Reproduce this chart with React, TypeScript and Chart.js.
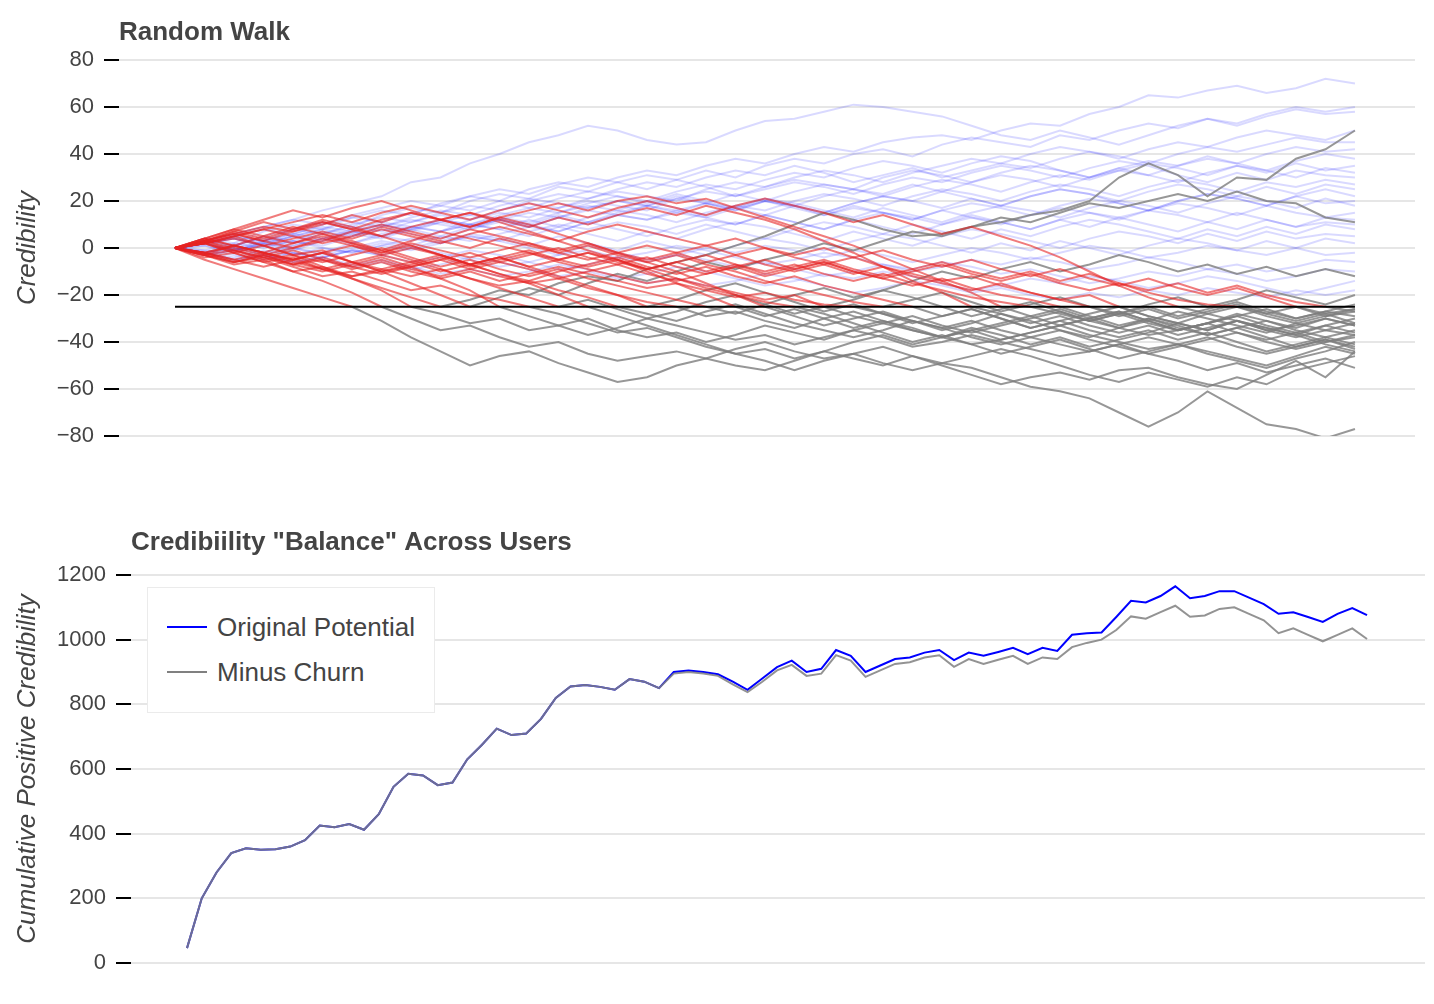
import React, { useEffect, useRef } from "react";
import { Chart, registerables } from "chart.js";

Chart.register(...registerables);

const FONT = "'Liberation Sans', Arial, Helvetica, sans-serif";
const TEXT = "#444";

const CHURN_THRESHOLD = -25;
const WALK_STEPS = 40;

// credibility of each user, sampled every 25 steps of the walk
const walk01 = [0, 4, 2, 7, 10, 8, 13, 16, 14, 19, 22, 20, 25, 28, 26, 30, 33, 31, 35, 38, 36, 40, 43, 41, 45, 47, 48, 46, 50, 53, 52, 57, 60, 65, 64, 67, 69, 66, 68, 72, 70];
const walk02 = [0, 3, 6, 9, 12, 16, 19, 22, 28, 30, 36, 40, 45, 48, 52, 50, 46, 44, 45, 50, 54, 55, 58, 61, 60, 58, 56, 52, 48, 46, 50, 47, 44, 48, 52, 55, 53, 57, 60, 58, 60];
const walk03 = [0, 2, 5, 3, 8, 11, 9, 14, 17, 15, 20, 23, 21, 26, 24, 28, 31, 29, 33, 30, 35, 38, 36, 40, 42, 39, 44, 47, 45, 43, 48, 46, 50, 53, 51, 55, 52, 56, 59, 57, 58];
const walk04 = [0, -2, 1, 4, 2, 6, 9, 7, 11, 14, 12, 16, 19, 17, 21, 24, 22, 20, 25, 28, 26, 30, 33, 31, 28, 32, 35, 38, 36, 40, 43, 41, 38, 42, 45, 43, 47, 50, 48, 46, 50];
const walk05 = [0, 3, 1, 5, 8, 6, 10, 13, 11, 15, 18, 16, 20, 23, 21, 25, 28, 26, 30, 33, 31, 35, 32, 28, 31, 34, 30, 33, 36, 34, 38, 41, 39, 36, 40, 43, 41, 44, 47, 45, 45];
const walk06 = [0, 2, -1, 3, 6, 4, 8, 11, 9, 7, 12, 15, 13, 17, 20, 18, 16, 21, 24, 22, 26, 29, 27, 25, 30, 33, 31, 28, 32, 35, 33, 30, 34, 37, 35, 39, 36, 40, 43, 41, 42];
const walk07 = [0, -3, -1, 2, 5, 3, 7, 10, 8, 12, 10, 14, 17, 15, 19, 22, 20, 24, 27, 25, 29, 32, 30, 34, 37, 35, 32, 36, 39, 37, 33, 30, 34, 31, 35, 38, 36, 33, 37, 40, 38];
const walk08 = [0, 2, 4, 1, 5, 8, 6, 10, 7, 11, 14, 12, 9, 13, 16, 14, 18, 21, 19, 23, 20, 24, 27, 25, 22, 26, 29, 27, 24, 28, 31, 29, 33, 36, 34, 31, 35, 32, 36, 33, 35];
const walk09 = [0, 1, -2, 2, -1, 3, 6, 4, 8, 5, 9, 12, 10, 14, 11, 15, 18, 16, 13, 17, 20, 18, 22, 25, 23, 27, 24, 28, 31, 29, 26, 30, 33, 31, 28, 32, 35, 33, 30, 34, 32];
const walk10 = [0, 3, 6, 9, 12, 10, 14, 17, 20, 18, 22, 25, 23, 27, 30, 28, 25, 29, 26, 22, 25, 28, 26, 23, 27, 30, 28, 32, 35, 33, 30, 34, 37, 35, 31, 28, 32, 29, 33, 31, 30];
const walk11 = [0, -2, -5, -3, 0, -2, 2, 5, 3, 7, 10, 8, 12, 9, 13, 16, 14, 11, 15, 18, 16, 20, 23, 21, 18, 22, 25, 23, 20, 24, 27, 25, 22, 26, 29, 27, 24, 28, 26, 29, 27];
const walk12 = [0, 2, 5, 8, 6, 10, 13, 11, 15, 18, 16, 20, 17, 21, 24, 22, 19, 23, 20, 17, 21, 18, 15, 19, 22, 20, 24, 21, 18, 22, 25, 23, 20, 24, 27, 25, 22, 26, 23, 27, 25];
const walk13 = [0, -1, 2, 0, 3, 1, 5, 8, 6, 4, 8, 11, 9, 13, 10, 14, 12, 16, 19, 17, 14, 18, 15, 19, 22, 20, 17, 21, 18, 22, 25, 23, 19, 16, 20, 23, 21, 18, 22, 25, 22];
const walk14 = [0, 2, 4, 2, 5, 8, 11, 9, 13, 16, 14, 18, 21, 19, 17, 20, 18, 15, 19, 16, 20, 18, 14, 17, 15, 12, 16, 19, 17, 14, 18, 21, 19, 16, 20, 23, 21, 18, 22, 19, 20];
const walk15 = [0, -2, 0, 3, 1, 4, 7, 5, 9, 12, 10, 13, 11, 15, 18, 16, 20, 17, 14, 18, 21, 19, 16, 13, 17, 14, 11, 15, 18, 16, 13, 17, 20, 18, 15, 19, 22, 20, 17, 21, 18];
const walk16 = [0, 3, 1, 5, 3, 7, 5, 9, 12, 10, 8, 12, 15, 13, 17, 20, 18, 22, 19, 16, 20, 17, 14, 18, 15, 12, 16, 13, 10, 14, 17, 15, 12, 16, 19, 17, 14, 18, 15, 13, 15];
const walk17 = [0, 1, -1, 2, 0, -3, 0, 3, 1, 5, 3, 6, 9, 7, 11, 14, 12, 15, 13, 10, 14, 11, 8, 12, 15, 13, 10, 14, 11, 8, 12, 9, 13, 16, 14, 11, 15, 12, 9, 13, 12];
const walk18 = [0, 2, 5, 3, 6, 9, 7, 5, 8, 11, 9, 12, 10, 7, 11, 8, 5, 9, 12, 10, 14, 11, 8, 12, 9, 6, 10, 13, 11, 8, 12, 15, 13, 10, 7, 11, 8, 12, 9, 11, 10];
const walk19 = [0, -2, -4, -1, -3, 0, -2, 1, 4, 2, 5, 3, 7, 10, 8, 11, 9, 6, 10, 7, 4, 8, 11, 9, 6, 10, 7, 4, 8, 5, 9, 12, 10, 7, 4, 8, 5, 9, 6, 10, 8];
const walk20 = [0, 2, 0, -2, 1, 4, 2, 6, 9, 7, 10, 8, 5, 9, 6, 3, 7, 4, 8, 11, 9, 6, 3, 7, 4, 1, 5, 8, 6, 3, 0, 4, 7, 5, 2, 6, 3, 7, 4, 6, 5];
const walk21 = [0, -1, -3, -5, -2, -4, -1, 2, 0, 3, 6, 4, 1, 5, 2, -1, 3, 0, -3, 1, 4, 2, -1, 3, 6, 4, 1, -2, 2, -1, 3, 0, -3, 1, 4, 2, -1, 3, 0, 4, 2];
const walk22 = [0, 2, 4, 1, 3, 0, -2, 1, -1, 2, 5, 3, 0, -3, 1, -2, -5, -3, 0, -2, 1, -1, -4, -1, -3, -6, -3, 0, -2, -5, -2, 1, -1, -4, -2, 1, -1, -3, 0, -3, -2];
const walk23 = [0, -2, -5, -3, -6, -4, -1, -3, 0, -2, -5, -8, -6, -3, -1, -4, -2, 1, -1, -4, -7, -5, -2, -4, -7, -10, -8, -5, -7, -4, -6, -9, -7, -4, -6, -9, -7, -10, -8, -5, -6];
const walk24 = [0, 2, -1, 1, -2, -4, -1, -3, -6, -4, -1, -3, -6, -9, -7, -4, -6, -3, -5, -8, -6, -9, -12, -10, -7, -9, -6, -8, -11, -9, -12, -15, -13, -10, -12, -9, -11, -14, -12, -9, -10];
const walk25 = [0, -3, -1, -4, -2, -5, -8, -6, -9, -7, -4, -6, -9, -12, -10, -13, -11, -8, -10, -13, -16, -14, -11, -13, -10, -12, -15, -18, -16, -13, -15, -12, -14, -17, -15, -12, -14, -17, -20, -17, -14];
const walk26 = [0, -2, 0, -3, -6, -4, -7, -5, -8, -11, -9, -12, -10, -7, -9, -12, -15, -13, -16, -14, -11, -13, -16, -19, -17, -14, -16, -19, -17, -20, -22, -19, -21, -18, -20, -17, -19, -21, -18, -20, -18];
const walk27 = [0, -5, -9, -13, -17, -21, -25, -31, -38, -44, -50, -46, -44, -49, -53, -57, -55, -50, -47, -50, -52, -48, -44, -47, -50, -46, -49, -51, -55, -59, -61, -64, -70, -76, -70, -61, -68, -75, -77, -81, -77];
const walk28 = [0, -3, -7, -5, -10, -14, -19, -25, -30, -35, -33, -38, -42, -40, -45, -48, -46, -44, -47, -43, -40, -44, -47, -45, -42, -46, -50, -54, -58, -55, -53, -56, -52, -51, -55, -58, -60, -54, -48, -55, -44];
const walk29 = [0, 2, -2, -6, -4, -9, -13, -18, -25, -28, -32, -30, -35, -33, -37, -34, -30, -33, -36, -39, -37, -41, -38, -35, -38, -42, -40, -37, -40, -43, -46, -44, -41, -38, -41, -44, -47, -50, -46, -42, -45];
const walk30 = [0, -4, -2, -6, -10, -8, -13, -17, -21, -25, -22, -18, -20, -15, -12, -14, -9, -6, -3, 1, 5, 10, 15, 12, 8, 5, 6, 9, 11, 14, 16, 20, 30, 36, 31, 22, 30, 29, 38, 42, 50];
const walk31 = [0, 3, -1, -5, -3, -8, -12, -10, -15, -20, -25, -21, -17, -20, -15, -11, -14, -10, -6, -9, -5, -2, 2, -1, 3, 7, 5, 9, 13, 11, 15, 19, 17, 20, 23, 20, 24, 20, 19, 13, 11];
const walk32 = [0, 2, 5, 1, -3, -1, -6, -10, -8, -13, -18, -25, -29, -33, -30, -35, -38, -36, -40, -37, -33, -36, -39, -35, -32, -35, -38, -41, -39, -36, -33, -30, -34, -37, -35, -32, -29, -33, -36, -33, -30];
const walk33 = [0, -2, -6, -4, -8, -12, -10, -14, -18, -16, -20, -22, -25, -28, -32, -36, -34, -38, -42, -45, -43, -47, -44, -40, -37, -41, -38, -35, -39, -36, -33, -37, -40, -43, -41, -45, -48, -51, -47, -44, -40];
const walk34 = [0, 4, 8, 5, 2, 6, 3, -1, -5, -9, -13, -17, -21, -25, -22, -26, -30, -27, -23, -20, -24, -28, -25, -22, -18, -21, -25, -29, -26, -23, -27, -31, -28, -24, -21, -25, -22, -18, -21, -24, -20];
const walk35 = [0, 3, 7, 11, 8, 12, 9, 5, 1, -3, -7, -11, -15, -20, -25, -29, -33, -37, -41, -45, -48, -52, -48, -45, -49, -52, -49, -46, -43, -46, -50, -54, -57, -53, -56, -59, -55, -58, -52, -49, -46];
const walk36 = [0, -3, 1, -2, -5, -2, -6, -9, -12, -9, -13, -16, -14, -18, -21, -25, -28, -31, -27, -24, -28, -32, -35, -38, -35, -31, -34, -38, -41, -38, -35, -39, -42, -45, -42, -39, -36, -40, -43, -40, -38];
const walk37 = [0, 4, 1, 5, 9, 6, 2, -2, 1, -3, -7, -4, -8, -12, -16, -20, -25, -22, -18, -15, -19, -23, -27, -24, -28, -32, -29, -26, -30, -34, -31, -28, -25, -29, -32, -28, -31, -35, -33, -30, -33];
const walk38 = [0, 4, 8, 12, 16, 13, 17, 20, 16, 12, 15, 11, 7, 3, -1, -5, -10, -15, -20, -25, -29, -26, -30, -34, -31, -35, -38, -34, -37, -41, -38, -42, -39, -36, -32, -35, -31, -34, -37, -33, -36];
const walk39 = [0, -3, -6, -3, -7, -4, -8, -11, -8, -5, -9, -12, -15, -13, -17, -20, -23, -25, -29, -27, -31, -34, -30, -27, -31, -34, -38, -35, -32, -29, -33, -30, -27, -31, -35, -32, -29, -26, -30, -27, -29];
const walk40 = [0, 2, -2, 1, -3, -6, -3, 0, -4, -8, -5, -9, -12, -9, -13, -16, -19, -22, -25, -28, -24, -20, -17, -21, -18, -14, -10, -13, -9, -6, -10, -7, -3, -6, -10, -7, -11, -8, -12, -9, -12];
const walk41 = [0, 3, 6, 3, 7, 10, 14, 11, 15, 12, 9, 13, 10, 6, 2, -2, -6, -10, -15, -20, -25, -29, -33, -30, -27, -31, -35, -32, -28, -31, -35, -38, -34, -31, -27, -30, -33, -36, -32, -35, -37];
const walk42 = [0, -2, -5, -2, -6, -9, -6, -10, -7, -4, -8, -5, -2, -6, -9, -12, -15, -13, -17, -20, -23, -25, -28, -32, -36, -40, -37, -41, -45, -42, -39, -43, -47, -44, -41, -38, -42, -45, -42, -39, -42];
const walk43 = [0, 4, 1, -2, 2, 5, 2, -1, 3, 7, 4, 1, -2, -5, -2, -6, -9, -13, -16, -19, -22, -20, -25, -29, -32, -29, -33, -36, -33, -30, -27, -31, -34, -30, -33, -37, -34, -31, -35, -38, -35];
const walk44 = [0, 3, 6, 9, 7, 11, 8, 12, 15, 12, 9, 13, 16, 19, 16, 20, 22, 19, 21, 17, 13, 9, 5, 1, -4, -9, -14, -19, -25, -29, -26, -30, -27, -31, -35, -32, -28, -31, -34, -30, -33];
const walk45 = [0, -3, -1, -4, -7, -5, -9, -6, -10, -13, -10, -14, -11, -8, -11, -14, -17, -15, -18, -21, -19, -22, -24, -25, -28, -31, -34, -31, -35, -38, -41, -44, -41, -45, -48, -52, -49, -53, -50, -47, -51];
const walk46 = [0, 2, 5, 8, 5, 2, 5, 9, 6, 3, 0, 4, 1, -2, 1, -3, -6, -3, -7, -10, -14, -17, -20, -23, -25, -22, -19, -23, -27, -24, -21, -25, -29, -26, -30, -27, -24, -28, -25, -29, -26];
const walk47 = [0, -2, -5, -8, -5, -9, -12, -9, -6, -10, -7, -11, -14, -10, -7, -4, -8, -11, -8, -12, -15, -12, -16, -19, -22, -25, -29, -26, -30, -34, -31, -35, -38, -35, -39, -36, -40, -44, -41, -38, -41];
const walk48 = [0, 3, 7, 4, 8, 11, 8, 5, 9, 12, 15, 12, 9, 13, 10, 14, 17, 14, 18, 15, 12, 8, 3, -2, -8, -14, -19, -25, -28, -32, -29, -33, -36, -33, -37, -34, -31, -35, -38, -35, -32];
const walk49 = [0, -2, 1, -2, -5, -2, -6, -3, 0, -3, -7, -4, -1, -5, -8, -5, -9, -6, -3, -7, -10, -7, -11, -14, -11, -15, -18, -21, -23, -25, -28, -31, -28, -32, -35, -32, -36, -39, -36, -40, -37];
const walk50 = [0, 2, -1, -4, -1, -5, -8, -5, -9, -12, -9, -6, -9, -13, -10, -7, -11, -14, -11, -8, -12, -9, -6, -10, -13, -16, -13, -17, -20, -22, -25, -29, -33, -30, -34, -37, -34, -38, -42, -39, -43];
const walk51 = [0, 3, 6, 3, 0, 3, 7, 10, 7, 4, 8, 5, 2, -1, 2, -2, -5, -2, 1, -3, 0, -4, -7, -4, -8, -11, -14, -12, -16, -19, -22, -25, -28, -25, -29, -26, -23, -27, -30, -27, -24];
const walk52 = [0, 2, 5, 8, 11, 14, 11, 15, 18, 15, 12, 16, 19, 16, 13, 17, 20, 17, 14, 18, 21, 18, 15, 11, 14, 10, 6, 9, 5, 1, -4, -10, -16, -21, -25, -28, -25, -29, -32, -29, -27];
const walk53 = [0, -3, -6, -3, -7, -10, -7, -4, -8, -5, -2, -6, -3, 0, -4, -7, -4, -8, -11, -8, -5, -9, -6, -10, -13, -10, -7, -11, -14, -11, -15, -18, -15, -19, -22, -24, -25, -28, -31, -28, -32];
const walk54 = [0, 2, 4, 1, 4, 7, 4, 8, 5, 2, 6, 9, 6, 3, 7, 10, 7, 4, 1, 4, 0, -3, 0, -4, -1, -5, -8, -5, -9, -12, -9, -13, -16, -13, -17, -20, -17, -21, -25, -28, -26];
const walk55 = [0, -2, 1, -2, -5, -2, 1, -3, -6, -3, -7, -4, -8, -5, -2, -5, -9, -6, -10, -7, -11, -8, -5, -9, -12, -9, -6, -10, -13, -10, -14, -11, -15, -18, -15, -19, -16, -20, -23, -25, -27];
const walk56 = [0, 3, 0, -3, 0, 4, 1, -2, 2, -1, -4, -1, 2, -2, -5, -2, 1, -2, -6, -3, -7, -10, -7, -11, -8, -12, -15, -18, -15, -19, -22, -20, -25, -29, -32, -35, -31, -34, -37, -41, -44];

const walks = [
  walk01, walk02, walk03, walk04, walk05, walk06, walk07, walk08, walk09, walk10,
  walk11, walk12, walk13, walk14, walk15, walk16, walk17, walk18, walk19, walk20,
  walk21, walk22, walk23, walk24, walk25, walk26, walk27, walk28, walk29, walk30,
  walk31, walk32, walk33, walk34, walk35, walk36, walk37, walk38, walk39, walk40,
  walk41, walk42, walk43, walk44, walk45, walk46, walk47, walk48, walk49, walk50,
  walk51, walk52, walk53, walk54, walk55, walk56,
];

// cumulative positive credibility, 81 samples
const originalPotential = [46, 200, 280, 340, 355, 350, 352, 360, 380, 425, 420, 430, 412, 460, 545, 585, 580, 550, 558, 630, 675, 725, 705, 710, 755, 820, 855, 860, 854, 845, 878, 870, 850, 900, 905, 900, 893, 870, 845, 880, 915, 935, 900, 910, 968, 950, 900, 920, 940, 945, 960, 968, 937, 960, 950, 962, 975, 955, 975, 965, 1015, 1020, 1022, 1070, 1120, 1115, 1135, 1165, 1128, 1135, 1150, 1150, 1130, 1110, 1080, 1085, 1070, 1055, 1080, 1098, 1076];
const minusChurn = [46, 200, 280, 340, 355, 350, 352, 360, 380, 425, 420, 430, 412, 460, 545, 585, 580, 550, 558, 630, 675, 725, 705, 710, 755, 820, 855, 860, 854, 845, 878, 870, 850, 895, 900, 895, 888, 862, 838, 870, 905, 922, 888, 895, 952, 935, 885, 905, 925, 930, 945, 952, 916, 940, 925, 938, 950, 925, 945, 940, 977, 990, 1000, 1030, 1072, 1065, 1085, 1105, 1071, 1075, 1095, 1100, 1080, 1060, 1020, 1035, 1015, 995, 1015, 1035, 1002];

const legendItems = [
  { label: "Original Potential", color: "#0000ff" },
  { label: "Minus Churn", color: "#808080" },
];

const BLUE = "rgba(0, 0, 255, 0.15)";
const RED = "rgba(230, 35, 35, 0.6)";
const GREY = "rgba(125, 125, 125, 0.8)";

const minusSign = (v: number | string) => {
  const n = Number(v);
  return n < 0 ? "\u2212" + Math.abs(n) : String(n);
};

const tickFont = { family: FONT, size: 22 };

const lineSet = (label: string, data: { x: number; y: number }[], color: string, order: number, width = 2) => ({
  label,
  data,
  borderColor: color,
  borderWidth: width,
  pointRadius: 0,
  fill: false,
  tension: 0,
  order,
});

const buildWalkSets = () => {
  const sets: any[] = [];
  walks.forEach((walk, k) => {
    const pts = walk.map((y, x) => ({ x, y }));
    const churnAt = walk.findIndex((v) => v <= CHURN_THRESHOLD);
    if (churnAt < 0) {
      sets.push(lineSet(`user ${k + 1}`, pts, BLUE, 4));
    } else {
      sets.push(lineSet(`user ${k + 1}`, pts.slice(0, churnAt + 1), RED, 2));
      sets.push(lineSet(`user ${k + 1} churned`, pts.slice(churnAt), GREY, 3));
    }
  });
  sets.push(
    lineSet("threshold", [
      { x: 0, y: CHURN_THRESHOLD },
      { x: WALK_STEPS, y: CHURN_THRESHOLD },
    ], "#000", 1, 2)
  );
  return sets;
};

const yAxis = (min: number, max: number, step: number, title: string, width: number) => ({
  min,
  max,
  border: { display: false },
  grid: { color: "#e6e6e6", lineWidth: 2, tickColor: "#000", tickLength: 15, tickWidth: 2 },
  ticks: { stepSize: step, color: TEXT, font: tickFont, padding: 10, callback: minusSign },
  title: {
    display: true,
    text: title,
    color: TEXT,
    font: { family: FONT, size: 26, style: "italic" as const },
    padding: { top: 12, bottom: 0 },
  },
  afterFit: (scale: any) => {
    scale.width = width;
  },
});

const plotTitle = (text: string, top: number, bottom: number) => ({
  display: true,
  text,
  align: "start" as const,
  fullSize: false,
  color: TEXT,
  font: { family: FONT, size: 26, weight: "bold" as const },
  padding: { top, bottom },
});

const App = () => {
  const walkRef = useRef<HTMLCanvasElement | null>(null);
  const balanceRef = useRef<HTMLCanvasElement | null>(null);

  useEffect(() => {
    const charts: Chart[] = [];
    const walkCtx = walkRef.current?.getContext("2d");
    if (walkCtx) {
      charts.push(
        new Chart(walkCtx, {
          type: "line",
          data: { datasets: buildWalkSets() },
          options: {
            responsive: false,
            maintainAspectRatio: false,
            animation: false,
            events: [],
            layout: { padding: { left: 0, right: 19, top: 0, bottom: 34 } },
            scales: {
              x: { type: "linear", min: -1.898, max: 42.035, display: false },
              y: yAxis(-80, 80, 20, "Credibility", 119) as any,
            },
            plugins: {
              legend: { display: false },
              tooltip: { enabled: false },
              title: plotTitle("Random Walk", 17.4, 11.4) as any,
            },
          },
        })
      );
    }

    const balanceCtx = balanceRef.current?.getContext("2d");
    if (balanceCtx) {
      charts.push(
        new Chart(balanceCtx, {
          type: "line",
          data: {
            datasets: [
              lineSet(legendItems[0].label, originalPotential.map((y, x) => ({ x, y })), legendItems[0].color, 2),
              lineSet(legendItems[1].label, minusChurn.map((y, x) => ({ x, y })), "rgba(128, 128, 128, 0.85)", 1),
            ],
          },
          options: {
            responsive: false,
            maintainAspectRatio: false,
            animation: false,
            events: [],
            layout: { padding: { left: 0, right: 9, top: 0, bottom: 41 } },
            scales: {
              x: { type: "linear", min: -3.797, max: 83.93, display: false },
              y: yAxis(0, 1200, 200, "Cumulative Positive Credibility", 131) as any,
            },
            plugins: {
              legend: { display: false },
              tooltip: { enabled: false },
              title: plotTitle('Credibiility "Balance" Across Users', 47.4, 16.4) as any,
            },
          },
        })
      );
    }

    return () => {
      charts.forEach((c) => c.destroy());
    };
  }, []);

  return (
    <div style={{ position: "absolute", left: 0, top: 0, width: 1434, height: 1004, background: "#fff" }}>
      <canvas ref={walkRef} width={1434} height={470} style={{ position: "absolute", left: 0, top: 0 }} />
      <canvas ref={balanceRef} width={1434} height={524} style={{ position: "absolute", left: 0, top: 480 }} />
      <div
        style={{
          position: "absolute",
          left: 147,
          top: 587,
          width: 288,
          height: 126,
          boxSizing: "border-box",
          border: "1px solid #ebebeb",
          background: "#fff",
          fontFamily: FONT,
          fontSize: 26,
          color: TEXT,
        }}
      >
        {legendItems.map((item, i) => (
          <div
            key={item.label}
            style={{ position: "absolute", left: 19, top: 23 + i * 45, height: 32, display: "flex", alignItems: "center", whiteSpace: "nowrap" }}
          >
            <span style={{ display: "inline-block", width: 40, height: 2, background: item.color, marginRight: 10 }} />
            <span>{item.label}</span>
          </div>
        ))}
      </div>
    </div>
  );
};

export default App;
